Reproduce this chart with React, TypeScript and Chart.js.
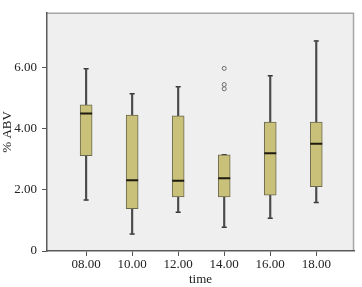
import React, { useEffect, useRef } from "react";
import { Chart, registerables } from "chart.js";

Chart.register(...registerables);

const categories = ["08.00", "10.00", "12.00", "14.00", "16.00", "18.00"];
const whiskerMin = [1.67, 0.56, 1.27, 0.78, 1.07, 1.59];
const q1 = [3.12, 1.39, 1.77, 1.77, 1.83, 2.11];
const median = [4.5, 2.32, 2.3, 2.38, 3.2, 3.51];
const q3 = [4.79, 4.45, 4.43, 3.15, 4.22, 4.22];
const whiskerMax = [5.97, 5.15, 5.38, 3.15, 5.74, 6.88];
const outlierCategory = [3, 3, 3];
const outlierValues = [5.98, 5.45, 5.31];
const yTicks = [0, 2, 4, 6];
const yTickLabels = ["0", "2.00", "4.00", "6.00"];

const FONT = "'Liberation Serif', 'Times New Roman', serif";

const plotFrame = {
  id: "plotFrame",
  beforeDraw(chart: any) {
    const { ctx, chartArea: a } = chart;
    ctx.save();
    ctx.fillStyle = "#efefef";
    ctx.fillRect(a.left, a.top, a.right - a.left, a.bottom - a.top);
    ctx.strokeStyle = "#a6a6a6";
    ctx.lineWidth = 1.5;
    ctx.beginPath();
    ctx.moveTo(a.left, a.top + 0.5);
    ctx.lineTo(a.right - 0.5, a.top + 0.5);
    ctx.lineTo(a.right - 0.5, a.bottom);
    ctx.stroke();
    ctx.restore();
  },
};

export default function App() {
  const ref = useRef<HTMLCanvasElement>(null);
  useEffect(() => {
    document.body.style.margin = "0";
    const idx = categories.map((_, i) => i);
    const chart = new Chart(ref.current!, {
      type: "bar",
      data: {
        datasets: [
          {
            type: "scatter",
            data: outlierCategory.map((c, i) => ({ x: c, y: outlierValues[i] })),
            pointStyle: "circle",
            radius: 2,
            borderWidth: 1,
            borderColor: "#6a6a6a",
            backgroundColor: "#efefef",
            order: 0,
          } as any,
          {
            type: "scatter",
            data: idx.map((i) => ({ x: i, y: median[i] })),
            pointStyle: "line",
            radius: 6,
            borderWidth: 2,
            borderColor: "#1e1c10",
            order: 1,
          } as any,
          {
            type: "bar",
            data: idx.map((i) => ({ x: i, y: [q1[i], q3[i]] })),
            barThickness: 12,
            backgroundColor: "#c9c07a",
            borderColor: "#6a6950",
            borderWidth: 1,
            borderSkipped: false,
            grouped: false,
            order: 2,
          } as any,
          {
            type: "bar",
            data: idx.map((i) => ({ x: i, y: [whiskerMin[i], whiskerMax[i]] })),
            barThickness: 1.5,
            backgroundColor: "#4a4a4a",
            borderWidth: 0,
            grouped: false,
            order: 3,
          } as any,
          {
            type: "scatter",
            data: [
              ...idx.map((i) => ({ x: i, y: whiskerMin[i] })),
              ...idx.map((i) => ({ x: i, y: whiskerMax[i] })),
            ],
            pointStyle: "line",
            radius: 2.5,
            borderWidth: 1.5,
            borderColor: "#333333",
            order: 4,
          } as any,
        ],
      },
      options: {
        responsive: false,
        animation: false,
        layout: { padding: { top: 5, right: 5, left: 0, bottom: 0 } },
        plugins: { legend: { display: false }, tooltip: { enabled: false } },
        scales: {
          x: {
            type: "linear",
            offset: false,
            min: -0.85,
            max: 5.82,
            afterBuildTicks: (s: any) => {
              s.ticks = idx.map((i) => ({ value: i }));
            },
            afterFit: (s: any) => {
              s.height = 36;
            },
            grid: { offset: false, drawOnChartArea: false, drawTicks: true, tickLength: 5, color: "#555555", lineWidth: 1 },
            border: { display: true, color: "#5a5a5a", width: 1.5 },
            ticks: {
              autoSkip: false,
              maxRotation: 0,
              padding: 1,
              color: "#222222",
              font: { family: FONT, size: 13 },
              callback: (v: any) => categories[Math.round(Number(v))] ?? "",
            },
            title: {
              display: true,
              text: "time",
              color: "#222222",
              font: { family: FONT, size: 13 },
              padding: { top: 0, bottom: 0 },
            },
          },
          y: {
            type: "linear",
            min: 0,
            max: 7.8,
            afterBuildTicks: (s: any) => {
              s.ticks = yTicks.map((v) => ({ value: v }));
            },
            afterFit: (s: any) => {
              s.width = 47;
            },
            grid: { drawOnChartArea: false, drawTicks: true, tickLength: 5, color: "#555555", lineWidth: 1 },
            border: { display: true, color: "#5a5a5a", width: 1.5 },
            ticks: {
              padding: 5,
              color: "#222222",
              font: { family: FONT, size: 13 },
              callback: (v: any) => yTickLabels[yTicks.indexOf(Number(v))] ?? "",
            },
            title: {
              display: true,
              text: "% ABV",
              color: "#222222",
              font: { family: FONT, size: 13 },
              padding: { top: 0, bottom: 0 },
            },
          },
        },
      },
      plugins: [plotFrame],
    });
    return () => chart.destroy();
  }, []);
  return (
    <div style={{ width: 362, height: 287 }}>
      <canvas ref={ref} width={362} height={287} style={{ display: "block" }} />
    </div>
  );
}
